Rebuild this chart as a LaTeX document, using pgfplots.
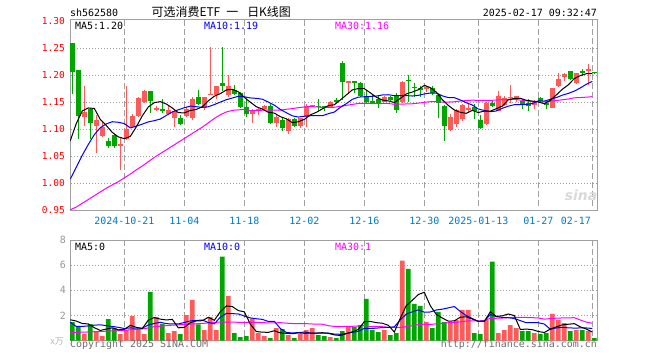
\documentclass[border=0pt]{standalone}
\usepackage{pgfplots}
\pgfplotsset{compat=1.18}
\usepackage{pgfplotstable}
\usepackage{fontspec}
\setmainfont{DejaVu Sans Mono}
\newfontfamily\cjk{Noto Sans CJK SC}
\newfontfamily\sinafont{DejaVu Sans}
\definecolor{upred}{RGB}{255,90,90}
\definecolor{dngreen}{RGB}{0,166,0}
\definecolor{mablue}{RGB}{0,0,255}
\definecolor{mamag}{RGB}{255,0,255}
\definecolor{framec}{RGB}{160,160,160}
\definecolor{gridc}{RGB}{160,160,160}
\definecolor{datec}{RGB}{0,122,204}
\definecolor{volc}{RGB}{150,150,150}
\definecolor{copyc}{RGB}{110,110,110}

% up (red) candles: index, open, high, low, close, volume (10k)
\pgfplotstableread{
i O H L C V
2 1.1235 1.180 1.107 1.1327 0.51
4 1.107 1.127 1.056 1.117 0.67
5 1.088 1.114 1.085 1.104 0.35
8 1.071 1.086 1.025 1.071 0.51
9 1.0815 1.180 1.080 1.100 0.85
10 1.104 1.128 1.102 1.125 1.95
11 1.125 1.159 1.123 1.158 0.93
12 1.151 1.172 1.148 1.171 0.51
14 1.135 1.144 1.133 1.140 1.87
16 1.129 1.143 1.127 1.136 0.59
17 1.120 1.135 1.105 1.134 0.75
19 1.125 1.142 1.122 1.138 2.03
20 1.120 1.160 1.118 1.156 3.23
22 1.139 1.160 1.135 1.159 0.83
23 1.165 1.252 1.163 1.165 1.87
24 1.164 1.181 1.157 1.180 0.83
26 1.164 1.201 1.160 1.180 3.55
30 1.129 1.138 1.112 1.135 1.76
31 1.133 1.142 1.127 1.138 0.59
32 1.138 1.145 1.136 1.143 0.35
34 1.112 1.126 1.104 1.122 0.99
36 1.0975 1.120 1.092 1.1185 0.43
38 1.107 1.121 1.102 1.120 0.51
39 1.1235 1.146 1.105 1.144 0.83
40 1.144 1.145 1.142 1.144 0.99
43 1.140 1.152 1.139 1.150 0.27
46 1.187 1.189 1.167 1.189 1.15
52 1.151 1.162 1.150 1.160 0.83
55 1.150 1.190 1.148 1.188 6.35
59 1.176 1.181 1.169 1.177 1.47
63 1.099 1.128 1.096 1.122 1.47
64 1.110 1.137 1.104 1.135 1.63
65 1.1185 1.147 1.116 1.145 2.43
66 1.138 1.148 1.131 1.139 2.43
69 1.109 1.150 1.108 1.149 1.63
71 1.134 1.170 1.133 1.162 0.59
72 1.145 1.162 1.143 1.158 0.83
73 1.159 1.182 1.149 1.160 1.23
74 1.159 1.162 1.150 1.162 0.99
77 1.145 1.154 1.138 1.150 0.59
80 1.140 1.176 1.139 1.176 2.11
81 1.180 1.205 1.178 1.194 1.63
82 1.196 1.205 1.190 1.2025 1.39
84 1.185 1.205 1.184 1.204 0.83
86 1.210 1.221 1.182 1.211 0.75
}\upc

% down (green) candles
\pgfplotstableread{
i O H L C V
0 1.259 1.259 1.165 1.206 1.47
1 1.210 1.210 1.082 1.125 1.15
3 1.138 1.140 1.082 1.112 1.31
6 1.079 1.083 1.065 1.069 1.71
7 1.089 1.091 1.066 1.069 1.01
13 1.171 1.171 1.131 1.153 3.87
15 1.138 1.157 1.131 1.134 1.33
18 1.121 1.126 1.108 1.110 0.51
21 1.159 1.173 1.145 1.146 1.28
25 1.186 1.253 1.171 1.180 6.67
27 1.172 1.182 1.163 1.165 0.59
28 1.167 1.169 1.140 1.142 0.27
29 1.141 1.157 1.123 1.129 0.35
33 1.144 1.146 1.110 1.112 0.19
35 1.117 1.120 1.096 1.102 0.91
37 1.119 1.120 1.105 1.107 0.19
41 1.144 1.156 1.133 1.142 0.43
42 1.143 1.144 1.134 1.139 0.35
44 1.153 1.158 1.148 1.152 0.19
45 1.2235 1.227 1.155 1.188 0.75
47 1.189 1.189 1.167 1.186 1.07
48 1.186 1.188 1.160 1.162 1.23
49 1.159 1.173 1.148 1.151 3.31
50 1.152 1.165 1.146 1.150 0.83
51 1.156 1.163 1.139 1.148 0.67
53 1.159 1.162 1.150 1.154 0.43
54 1.163 1.167 1.131 1.136 0.59
56 1.192 1.201 1.150 1.190 5.71
57 1.179 1.186 1.160 1.177 2.91
58 1.176 1.180 1.160 1.175 2.75
60 1.177 1.180 1.163 1.167 0.99
61 1.164 1.166 1.121 1.148 2.27
62 1.143 1.145 1.079 1.107 1.47
67 1.142 1.147 1.119 1.134 0.59
68 1.118 1.126 1.100 1.102 0.51
70 1.149 1.152 1.142 1.144 6.27
75 1.153 1.157 1.138 1.145 0.75
76 1.149 1.157 1.134 1.144 0.75
78 1.158 1.160 1.150 1.152 0.51
79 1.149 1.151 1.138 1.146 0.59
83 1.208 1.208 1.191 1.193 0.75
85 1.208 1.212 1.198 1.204 0.83
87 1.206 1.206 1.204 1.205 0.19
}\dnc

% price moving averages
\pgfplotstableread{
i m5 m10 m30
0 1.079 1.008 0.951
1 1.111 1.030 0.956
2 1.134 1.052 0.963
3 1.1395 1.072 0.970
4 1.1386 1.090 0.977
5 1.1182 1.103 0.984
6 1.107 1.110 0.991
7 1.0942 1.114 0.997
8 1.086 1.113 1.003
9 1.0826 1.1106 1.010
10 1.0868 1.1025 1.017
11 1.1046 1.1058 1.025
12 1.125 1.1096 1.032
13 1.1414 1.1137 1.040
14 1.1494 1.116 1.048
15 1.1512 1.119 1.055
16 1.1468 1.1257 1.062
17 1.1394 1.1322 1.069
18 1.1308 1.1361 1.076
19 1.1304 1.1399 1.083
20 1.1348 1.143 1.090
21 1.1368 1.1418 1.097
22 1.1418 1.1406 1.104
23 1.1528 1.1418 1.112
24 1.1612 1.1458 1.120
25 1.166 1.1504 1.127
26 1.1728 1.1548 1.132
27 1.174 1.1579 1.135
28 1.1694 1.1611 1.136
29 1.1592 1.1602 1.1369
30 1.1502 1.1581 1.1345
31 1.1418 1.1573 1.1350
32 1.1374 1.1557 1.1353
33 1.1314 1.1504 1.1353
34 1.130 1.1446 1.1355
35 1.1234 1.1368 1.1354
36 1.1195 1.1307 1.1371
37 1.1123 1.1249 1.1383
38 1.1139 1.1227 1.1400
39 1.1183 1.1242 1.1414
40 1.1267 1.1251 1.1421
41 1.1314 1.1255 1.1415
42 1.1378 1.1251 1.1405
43 1.1438 1.1289 1.1404
44 1.1454 1.1319 1.1408
45 1.1542 1.1405 1.1426
46 1.1636 1.1475 1.1443
47 1.173 1.1554 1.1461
48 1.1754 1.1596 1.1478
49 1.1752 1.1603 1.1482
50 1.1676 1.1609 1.1480
51 1.1594 1.1615 1.1481
52 1.1542 1.1636 1.1481
53 1.1526 1.164 1.1478
54 1.1496 1.1624 1.1463
55 1.1572 1.1624 1.1466
56 1.1656 1.1625 1.1469
57 1.169 1.1616 1.1473
58 1.1732 1.1629 1.1484
59 1.1814 1.1655 1.1500
60 1.1772 1.1672 1.1511
61 1.1688 1.1672 1.1514
62 1.1548 1.1619 1.1502
63 1.1442 1.1587 1.1505
64 1.1358 1.1586 1.1510
65 1.1314 1.1543 1.1524
66 1.1296 1.1492 1.1531
67 1.135 1.1449 1.1540
68 1.131 1.1376 1.1534
69 1.1338 1.1348 1.1535
70 1.1336 1.1325 1.1535
71 1.1382 1.1339 1.1542
72 1.143 1.139 1.1548
73 1.1546 1.1428 1.1552
74 1.1572 1.1455 1.1555
75 1.1574 1.1455 1.1541
76 1.1538 1.146 1.1526
77 1.1522 1.1476 1.1514
78 1.1506 1.1526 1.1510
79 1.1474 1.1523 1.1509
80 1.1536 1.1555 1.1517
81 1.1636 1.1587 1.1533
82 1.1741 1.1632 1.1547
83 1.1823 1.1665 1.1560
84 1.1939 1.1707 1.1583
85 1.1995 1.1766 1.1588
86 1.2029 1.1833 1.1595
87 1.2034 1.1888 1.1604
}\mapx

% volume moving averages
\pgfplotstableread{
i v5 v10 v30
0 1.65 1.45 0.64
1 1.55 1.12 0.65
2 1.35 1.12 0.66
3 1.32 1.16 0.68
4 1.022 1.22 0.70
5 0.798 1.25 0.72
6 0.91 1.18 0.74
7 1.01 1.12 0.76
8 0.85 1.05 0.78
9 0.886 0.954 0.81
10 1.206 1.002 0.85
11 1.05 0.98 0.88
12 0.95 0.98 0.92
13 1.622 1.236 1.00
14 1.826 1.356 1.10
15 1.702 1.454 1.14
16 1.634 1.342 1.18
17 1.682 1.316 1.22
18 1.01 1.316 1.25
19 1.042 1.434 1.27
20 1.422 1.562 1.30
21 1.56 1.597 1.33
22 1.576 1.629 1.36
23 1.848 1.429 1.40
24 1.608 1.325 1.44
25 2.296 1.859 1.47
26 2.75 2.155 1.47
27 2.702 2.139 1.46
28 2.382 2.115 1.45
29 2.286 1.947 1.445
30 1.304 1.80 1.455
31 0.712 1.731 1.436
32 0.664 1.683 1.431
33 0.648 1.515 1.393
34 0.776 1.531 1.404
35 0.606 0.955 1.423
36 0.574 0.643 1.38
37 0.542 0.603 1.353
38 0.606 0.627 1.353
39 0.574 0.675 1.352
40 0.59 0.598 1.32
41 0.59 0.582 1.303
42 0.622 0.582 1.298
43 0.574 0.59 1.178
44 0.446 0.51 1.122
45 0.398 0.494 1.103
46 0.542 0.566 1.121
47 0.686 0.654 1.132
48 0.878 0.726 1.156
49 1.502 0.974 1.199
50 1.518 0.958 1.119
51 1.422 0.982 1.098
52 1.374 1.03 1.098
53 1.214 1.046 1.05
54 0.67 1.086 1.042
55 1.774 1.646 1.032
56 2.782 2.102 1.104
57 3.198 2.286 1.181
58 3.662 2.438 1.264
59 3.838 2.254 1.301
60 2.766 2.27 1.275
61 2.078 2.43 1.331
62 1.79 2.494 1.369
63 1.534 2.598 1.411
64 1.566 2.702 1.433
65 1.854 2.31 1.483
66 1.886 1.982 1.55
67 1.71 1.75 1.563
68 1.518 1.526 1.563
69 1.518 1.542 1.59
70 2.286 2.07 1.766
71 1.918 1.902 1.771
72 1.966 1.838 1.787
73 2.11 1.814 1.819
74 1.982 1.75 1.846
75 0.878 1.582 1.846
76 0.91 1.414 1.833
77 0.862 1.414 1.817
78 0.718 1.414 1.793
79 0.638 1.31 1.702
80 0.91 0.894 1.745
81 1.086 0.998 1.777
82 1.246 1.054 1.795
83 1.294 1.006 1.806
84 1.342 0.99 1.814
85 1.086 0.998 1.63
86 0.91 0.998 1.465
87 0.67 0.958 1.374
}\mavol

\pgfplotsset{
  kax/.style={
    scale only axis, width=527.7bp, xmin=-0.383, xmax=87.567,
    anchor=south west,
    axis line style={draw=framec, line width=1bp},
    major tick length=0pt, minor tick num=0,
    xtick={8.667,18.667,28.667,38.667,48.667,58.667,67.667,77.667,86.667},
    ticklabel style={font=\fontsize{10}{12}\selectfont},
    /pgf/number format/assume math mode=true,
  },
  wick/.style={draw=none, mark=none, forget plot,
    error bars/.cd, y dir=both, y explicit, error mark=none,
    error bar style={draw=#1, line width=1bp}},
  body/.style={draw=none, mark=none, forget plot,
    error bars/.cd, y dir=both, y explicit, error mark=none,
    error bar style={draw=#1, line width=4.7bp}},
  maline/.style={mark=none, line width=1bp, draw=#1},
}

\begin{document}
\begin{tikzpicture}
\path[use as bounding box] (0bp,0bp) rectangle (660bp,360bp);

% ---------- grid: dashes and dots built from short solid pieces ----------
\begin{scope}[fill=gridc]
\foreach \gx in {123.8,183.8,243.8,303.8,363.8,423.8,477.8,537.8,591.8} {
  \foreach \yy in {334,325,...,150} {
    \fill (\gx bp,\yy bp) rectangle ++(1bp,6bp);
  }
  \foreach \yy in {114,105,...,20} {
    \fill (\gx bp,\yy bp) rectangle ++(1bp,6bp);
  }
}
\foreach \gy in {311.2,284.2,257.2,230.2,203.2,176.2,94.2,69.2,44.2} {
  \foreach \xx in {71,74,...,596} {
    \fill (\xx bp,\gy bp) rectangle ++(1bp,1bp);
  }
}
\end{scope}

% ---------- price panel ----------
\begin{axis}[kax, at={(70bp,149bp)}, height=191bp,
  ymin=0.9487, ymax=1.3024,
  ytick={0.95,1.00,1.05,1.10,1.15,1.20,1.25,1.30},
  yticklabel style={text=red, anchor=east, inner sep=0pt, xshift=-5bp,
    font=\fontsize{9.6}{12}\selectfont,
    /pgf/number format/.cd, fixed, fixed zerofill, precision=2},
  xticklabels={2024-10-21,11-04,11-18,12-02,12-16,12-30,2025-01-13,01-27,{}},
  xticklabel style={text=datec, anchor=base, inner sep=0pt, yshift=-14bp},
]
\addplot[wick=upred] table[x=i, y expr={(\thisrow{H}+\thisrow{L})/2}, y error expr={(\thisrow{H}-\thisrow{L})/2}] {\upc};
\addplot[wick=dngreen] table[x=i, y expr={(\thisrow{H}+\thisrow{L})/2}, y error expr={(\thisrow{H}-\thisrow{L})/2}] {\dnc};
\addplot[body=upred] table[x=i, y expr={(\thisrow{O}+\thisrow{C})/2}, y error expr={max(abs(\thisrow{C}-\thisrow{O})/2,0.0009)}] {\upc};
\addplot[body=dngreen] table[x=i, y expr={(\thisrow{O}+\thisrow{C})/2}, y error expr={max(abs(\thisrow{C}-\thisrow{O})/2,0.0009)}] {\dnc};
\addplot[maline=mamag] table[x expr={\thisrow{i}-0.33}, y=m30] {\mapx};
\addplot[maline=mablue] table[x expr={\thisrow{i}-0.33}, y=m10] {\mapx};
\addplot[maline=black] table[x expr={\thisrow{i}-0.33}, y=m5] {\mapx};
\end{axis}

% ---------- volume panel ----------
\begin{axis}[kax, at={(70bp,19.5bp)}, height=100.5bp,
  ymin=0, ymax=8, ytick={2,4,6,8},
  yticklabel style={text=volc, anchor=east, inner sep=0pt, xshift=-4bp},
  xticklabels={},
]
\addplot[ybar, bar width=4.7bp, bar shift=0pt, fill=upred, draw=none, forget plot] table[x=i, y=V] {\upc};
\addplot[ybar, bar width=4.7bp, bar shift=0pt, fill=dngreen, draw=none, forget plot] table[x=i, y=V] {\dnc};
\addplot[maline=mamag] table[x expr={\thisrow{i}-0.33}, y=v30] {\mavol};
\addplot[maline=mablue] table[x expr={\thisrow{i}-0.33}, y=v10] {\mavol};
\addplot[maline=black] table[x expr={\thisrow{i}-0.33}, y=v5] {\mavol};
\end{axis}

% ---------- texts ----------
\begin{scope}[every node/.style={inner sep=0pt, font=\fontsize{10}{12}\selectfont}]
\node[anchor=base west] at (70bp,343.1bp) {sh562580};
\node[anchor=base west, font=\cjk\fontsize{12}{14}\selectfont] at (151.5bp,343bp) {可选消费ETF\hspace{6bp}一\hspace{9bp}日K线图};
\node[anchor=base east] at (597bp,343.1bp) {2025-02-17 09:32:47};
\node[anchor=base west] at (75bp,330.7bp) {MA5:1.20};
\node[anchor=base west, text=mablue] at (204bp,330.7bp) {MA10:1.19};
\node[anchor=base west, text=mamag] at (335bp,330.7bp) {MA30:1.16};
\node[anchor=base west] at (75bp,109.7bp) {MA5:0};
\node[anchor=base west, text=mablue] at (204bp,109.7bp) {MA10:0};
\node[anchor=base west, text=mamag] at (335bp,109.7bp) {MA30:1};
\node[anchor=base east, text=datec] at (591bp,135bp) {02-17};
\node[anchor=base west, text=copyc] at (70bp,12.3bp) {Copyright 2025 SINA.COM};
\node[anchor=base east, text=copyc] at (597bp,12.3bp) {http://finance.sina.com.cn};
\node[anchor=base east, text=volc!70, font=\cjk\fontsize{9}{11}\selectfont] at (64bp,16bp) {x万};
\node[anchor=center, text=black!15, font=\sinafont\bfseries\itshape\fontsize{14}{16}\selectfont] at (581bp,165bp) {sina};
\end{scope}
\end{tikzpicture}
\end{document}
